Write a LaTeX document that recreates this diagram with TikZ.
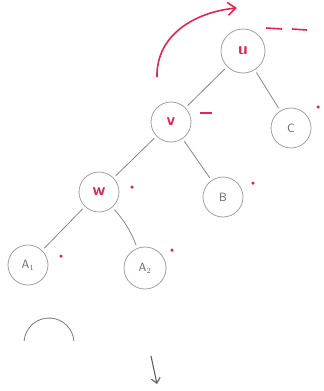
\documentclass[tikz,border=0pt]{standalone}
\usepackage{tikz}
\usetikzlibrary{arrows.meta}
\definecolor{pen}{RGB}{226, 38, 82}
\definecolor{lead}{RGB}{120, 120, 120}

\begin{document}
\begin{tikzpicture}[x=1pt, y=-1pt, font=\sffamily,
    vert/.style={circle, draw=lead!70, line width=0.8pt, minimum size=40pt, inner sep=0pt,
      text=lead!80!black, font=\large\sffamily},
    hot/.style={vert, text=pen, font=\LARGE\sffamily\bfseries},
    edge/.style={lead!90, line width=0.8pt, shorten <=3pt, shorten >=3pt},
    dot/.style={circle, fill=pen, inner sep=0pt, minimum size=3.5pt}]
  \useasboundingbox (0, 0) rectangle (324, 391);
  % tree
  \node[hot, minimum size=44pt] (u) at (243, 51) {u};
  \node[hot] (v) at (171, 122) {v};
  \node[hot] (w) at (99, 192) {w};
  \node[vert] (C) at (291, 128) {C};
  \node[vert] (B) at (223, 197) {B};
  \node[vert] (A1) at (28, 265) {A$_1$};
  \node[vert, minimum size=42pt] (A2) at (145, 268) {A$_2$};
  \draw[edge] (u) -- (v);
  \draw[edge] (u) -- (C);
  \draw[edge] (v) -- (w);
  \draw[edge] (v) -- (B);
  \draw[edge] (w) -- (A1);
  \draw[edge] (w) to[bend left=10] (A2);
  % marks
  \foreach \x/\y/\lbl in {318/107/C, 253/183/B, 132/187/w, 61/256/A1, 172/250/A2}
    \node[dot] (d\lbl) at (\x, \y) {};
  \draw[pen, line width=1.6pt] (266, 28) -- (282, 29) (292, 29) -- (307, 30);
  \draw[pen, line width=1.6pt] (200, 113) -- (212, 113);
  % rotation arrow
  \coordinate (rs) at (157, 77);
  \coordinate (re) at (237, 8);
  \draw[pen, line width=1.6pt, -{Straight Barb[length=8pt, width=13pt]}]
    (rs) .. controls (156, 35) and (195, 12) .. (re);
  % leftover
  \draw[lead, line width=0.8pt] (49, 343) ++(185:25) arc[start angle=185, end angle=355, radius=25];
  \coordinate (ds) at (151, 356);
  \coordinate (de) at (157, 384);
  \draw[lead!80!black, line width=1.1pt, -{Straight Barb[length=5pt, width=9pt]}] (ds) -- (de);
\end{tikzpicture}
\end{document}
